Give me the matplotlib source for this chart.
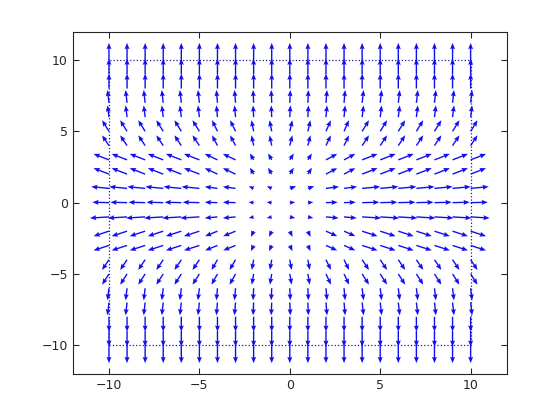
import numpy as np
import matplotlib
matplotlib.use("Agg")
import matplotlib.pyplot as plt

# grid positions
xs = list(range(-10, 11))
ys = list(range(10, -11, -1))

# x-components, one row per y (top to bottom)
U = [
    [0]*21,
    [0]*21,
    [0]*21,
    [-0.08,-0.08,-0.08,-0.08,-0.08,-0.08,-0.06,-0.06,-0.03,-0.03,0.03,0.03,0.06,0.06,0.08,0.08,0.08,0.08,0.08,0.08,0.08],
    [-0.08,-0.08,-0.08,-0.08,-0.08,-0.08,-0.06,-0.06,-0.03,-0.03,0.03,0.03,0.06,0.06,0.08,0.08,0.08,0.08,0.08,0.08,0.08],
    [-0.38,-0.38,-0.38,-0.38,-0.38,-0.38,-0.30,-0.30,-0.12,-0.12,0.14,0.14,0.27,0.27,0.38,0.38,0.38,0.38,0.38,0.38,0.38],
    [-0.38,-0.38,-0.38,-0.38,-0.38,-0.38,-0.30,-0.30,-0.12,-0.12,0.14,0.14,0.27,0.27,0.38,0.38,0.38,0.38,0.38,0.38,0.38],
    [-0.85,-0.85,-0.85,-0.85,-0.85,-0.85,-0.70,-0.70,-0.20,-0.20,0.22,0.22,0.62,0.62,0.85,0.85,0.85,0.85,0.85,0.85,0.85],
    [-0.85,-0.85,-0.85,-0.85,-0.85,-0.85,-0.70,-0.70,-0.20,-0.20,0.22,0.22,0.62,0.62,0.85,0.85,0.85,0.85,0.85,0.85,0.85],
    [-0.98,-0.98,-0.98,-0.98,-0.98,-0.98,-0.70,-0.70,-0.27,-0.27,0.35,0.35,0.72,0.72,1.00,1.00,1.00,1.00,1.00,1.00,1.00],
    [-0.92,-0.92,-0.92,-0.92,-0.92,-0.92,-0.70,-0.70,-0.28,-0.28,0.30,0.30,0.65,0.65,0.95,0.95,0.95,0.95,0.95,0.95,0.95],
    [-1.05,-1.05,-1.05,-1.05,-1.05,-1.05,-0.70,-0.70,-0.27,-0.27,0.30,0.30,0.70,0.70,1.05,1.05,1.05,1.05,1.05,1.05,1.05],
    [-0.85,-0.85,-0.85,-0.85,-0.85,-0.85,-0.68,-0.68,-0.15,-0.15,0.15,0.15,0.62,0.62,0.85,0.85,0.85,0.85,0.85,0.85,0.85],
    [-0.85,-0.85,-0.85,-0.85,-0.85,-0.85,-0.68,-0.68,-0.15,-0.15,0.15,0.15,0.62,0.62,0.85,0.85,0.85,0.85,0.85,0.85,0.85],
    [-0.38,-0.38,-0.38,-0.38,-0.38,-0.38,-0.33,-0.33,-0.10,-0.10,0.10,0.10,0.28,0.28,0.38,0.38,0.38,0.38,0.38,0.38,0.38],
    [-0.38,-0.38,-0.38,-0.38,-0.38,-0.38,-0.33,-0.33,-0.10,-0.10,0.10,0.10,0.28,0.28,0.38,0.38,0.38,0.38,0.38,0.38,0.38],
    [-0.08,-0.08,-0.08,-0.08,-0.08,-0.08,-0.06,-0.06,-0.03,-0.03,0.03,0.03,0.06,0.06,0.08,0.08,0.08,0.08,0.08,0.08,0.08],
    [-0.08,-0.08,-0.08,-0.08,-0.08,-0.08,-0.06,-0.06,-0.03,-0.03,0.03,0.03,0.06,0.06,0.08,0.08,0.08,0.08,0.08,0.08,0.08],
    [0]*21,
    [0]*21,
    [0]*21,
]

# y-components, same layout
V = [
    [1.20]*21,
    [1.10]*21,
    [1.05]*21,
    [0.90]*21,
    [0.82]*21,
    [0.78]*21,
    [0.72]*21,
    [0.42,0.42,0.42,0.42,0.42,0.42,0.42,0.42,0.45,0.45,0.45,0.45,0.42,0.42,0.42,0.42,0.42,0.42,0.42,0.42,0.42],
    [0.42,0.42,0.42,0.42,0.42,0.42,0.42,0.42,0.45,0.45,0.45,0.45,0.42,0.42,0.42,0.42,0.42,0.42,0.42,0.42,0.42],
    [0.12,0.12,0.12,0.12,0.12,0.12,0.12,0.12,0.15,0.15,0.15,0.15,0.12,0.12,0.12,0.12,0.12,0.12,0.12,0.12,0.12],
    [0.03]*21,
    [-0.08]*21,
    [-0.35,-0.35,-0.35,-0.35,-0.35,-0.35,-0.35,-0.35,-0.40,-0.40,-0.40,-0.40,-0.35,-0.35,-0.35,-0.35,-0.35,-0.35,-0.35,-0.35,-0.35],
    [-0.35,-0.35,-0.35,-0.35,-0.35,-0.35,-0.35,-0.35,-0.40,-0.40,-0.40,-0.40,-0.35,-0.35,-0.35,-0.35,-0.35,-0.35,-0.35,-0.35,-0.35],
    [-0.72]*21,
    [-0.75]*21,
    [-0.85]*21,
    [-0.90]*21,
    [-1.05]*21,
    [-1.10]*21,
    [-1.25]*21,
]

X, Y = np.meshgrid(xs, ys)

fig = plt.figure(figsize=(5.6, 4.2), dpi=100)
ax = fig.add_axes([0.13, 0.11, 0.775, 0.815])

ax.plot([-10, 10, 10, -10, -10], [-10, -10, 10, 10, -10], ':', color='#1a1aa0', lw=0.9)
ax.quiver(X, Y, np.array(U), np.array(V), color='#1010ee',
          angles='xy', scale_units='xy', scale=1,
          width=0.0032, headwidth=3.6, headlength=4.5, headaxislength=4.0)

ax.set_xlim(-12, 12)
ax.set_ylim(-12, 12)
ax.set_xticks([-10, -5, 0, 5, 10])
ax.set_yticks([-10, -5, 0, 5, 10])
ax.tick_params(direction='in', top=True, right=True, length=4, labelsize=9,
               colors='#262626')
for s in ax.spines.values():
    s.set_linewidth(0.8)
    s.set_color('#262626')

fig.savefig('out.png', dpi=100)
